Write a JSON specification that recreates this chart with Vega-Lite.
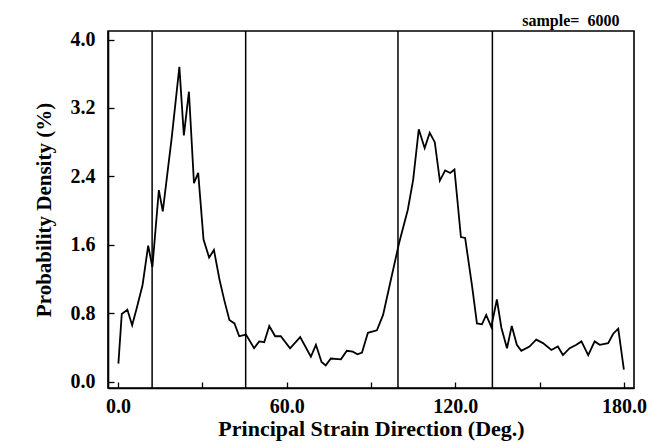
{
  "$schema": "https://vega.github.io/schema/vega-lite/v6.json",
  "width": 526,
  "height": 357,
  "autosize": {"type": "none"},
  "padding": {"left": 108, "top": 31, "right": 28, "bottom": 60},
  "background": "white",
  "config": {
    "view": {"stroke": "black", "strokeWidth": 1.6},
    "axis": {
      "grid": false,
      "domainColor": "black",
      "domainWidth": 1.6,
      "tickColor": "black",
      "tickWidth": 1.3,
      "labelFont": "Liberation Serif",
      "labelFontWeight": "bold",
      "labelFontSize": 20,
      "labelColor": "black",
      "titleFont": "Liberation Serif",
      "titleFontWeight": "bold",
      "titleColor": "black"
    }
  },
  "layer": [
    {
      "data": {"values": [
        {"angle": 0.1, "density": 0.21}, {"angle": 1.3, "density": 0.79}, {"angle": 3.3, "density": 0.84},
        {"angle": 5.0, "density": 0.66}, {"angle": 6.8, "density": 0.88}, {"angle": 8.7, "density": 1.13},
        {"angle": 10.7, "density": 1.59}, {"angle": 12.2, "density": 1.34}, {"angle": 14.5, "density": 2.24},
        {"angle": 15.9, "density": 1.99}, {"angle": 19.1, "density": 2.86}, {"angle": 21.8, "density": 3.68},
        {"angle": 23.4, "density": 2.88}, {"angle": 25.2, "density": 3.39}, {"angle": 27.0, "density": 2.32},
        {"angle": 28.5, "density": 2.44}, {"angle": 30.4, "density": 1.66}, {"angle": 32.4, "density": 1.45},
        {"angle": 34.1, "density": 1.54}, {"angle": 36.1, "density": 1.19}, {"angle": 37.8, "density": 0.95},
        {"angle": 39.6, "density": 0.72}, {"angle": 41.4, "density": 0.68}, {"angle": 43.1, "density": 0.53},
        {"angle": 45.5, "density": 0.55}, {"angle": 48.4, "density": 0.39}, {"angle": 50.2, "density": 0.47},
        {"angle": 52.0, "density": 0.46}, {"angle": 53.8, "density": 0.65}, {"angle": 55.9, "density": 0.53},
        {"angle": 57.9, "density": 0.53}, {"angle": 61.2, "density": 0.39}, {"angle": 64.8, "density": 0.52},
        {"angle": 68.6, "density": 0.29}, {"angle": 70.4, "density": 0.43}, {"angle": 72.4, "density": 0.23},
        {"angle": 73.9, "density": 0.19}, {"angle": 75.7, "density": 0.27}, {"angle": 79.3, "density": 0.26},
        {"angle": 81.4, "density": 0.36}, {"angle": 83.5, "density": 0.35}, {"angle": 85.2, "density": 0.32},
        {"angle": 86.8, "density": 0.34}, {"angle": 88.9, "density": 0.57}, {"angle": 92.1, "density": 0.6},
        {"angle": 94.3, "density": 0.78}, {"angle": 96.8, "density": 1.15}, {"angle": 100.0, "density": 1.62},
        {"angle": 103.1, "density": 2.01}, {"angle": 105.0, "density": 2.36}, {"angle": 107.0, "density": 2.95},
        {"angle": 109.1, "density": 2.73}, {"angle": 110.9, "density": 2.91}, {"angle": 112.7, "density": 2.8},
        {"angle": 114.5, "density": 2.35}, {"angle": 116.4, "density": 2.47}, {"angle": 118.2, "density": 2.44},
        {"angle": 119.7, "density": 2.48}, {"angle": 122.0, "density": 1.69}, {"angle": 123.5, "density": 1.68},
        {"angle": 126.0, "density": 1.11}, {"angle": 127.7, "density": 0.68}, {"angle": 129.5, "density": 0.67},
        {"angle": 131.0, "density": 0.78}, {"angle": 132.8, "density": 0.64}, {"angle": 134.8, "density": 0.96},
        {"angle": 136.4, "density": 0.63}, {"angle": 138.4, "density": 0.39}, {"angle": 140.1, "density": 0.65},
        {"angle": 141.9, "density": 0.43}, {"angle": 143.5, "density": 0.36}, {"angle": 146.4, "density": 0.41},
        {"angle": 148.8, "density": 0.49}, {"angle": 151.2, "density": 0.45}, {"angle": 154.2, "density": 0.37},
        {"angle": 156.5, "density": 0.41}, {"angle": 158.3, "density": 0.31}, {"angle": 160.7, "density": 0.39},
        {"angle": 163.1, "density": 0.43}, {"angle": 164.9, "density": 0.47}, {"angle": 167.3, "density": 0.31},
        {"angle": 169.6, "density": 0.47}, {"angle": 171.4, "density": 0.43}, {"angle": 174.4, "density": 0.45},
        {"angle": 176.2, "density": 0.56}, {"angle": 178.0, "density": 0.62}, {"angle": 180.0, "density": 0.14}
      ]},
      "mark": {"type": "line", "color": "black", "strokeWidth": 1.8, "clip": true},
      "encoding": {
        "x": {
          "field": "angle",
          "type": "quantitative",
          "scale": {"domain": [-3.6, 183.6], "nice": false, "zero": false},
          "axis": {
            "title": "Principal Strain Direction (Deg.)",
            "titleFontSize": 22,
            "values": [0, 30, 60, 90, 120, 150, 180],
            "labelExpr": "datum.value % 60 === 0 ? format(datum.value, '.1f') : ''",
            "tickSize": -6,
            "labelPadding": 14,
            "titlePadding": 2
          }
        },
        "y": {
          "field": "density",
          "type": "quantitative",
          "scale": {"domain": [-0.075, 4.1], "nice": false, "zero": false},
          "axis": {
            "title": "Probability Density (%)",
            "titleFontSize": 21,
            "values": [0, 0.8, 1.6, 2.4, 3.2, 4.0],
            "format": ".1f",
            "tickSize": -6,
            "labelPadding": 19,
            "titlePadding": 16
          }
        }
      }
    },
    {
      "data": {"values": [{"angle": 12.1}, {"angle": 45.4}, {"angle": 99.6}, {"angle": 133.2}]},
      "mark": {"type": "rule", "color": "black", "strokeWidth": 1.5},
      "encoding": {
        "x": {"field": "angle", "type": "quantitative"}
      }
    },
    {
      "data": {"values": [{"angle": 178.4, "density": 4.1, "label": "sample=\u00a0 6000"}]},
      "mark": {
        "type": "text",
        "align": "right",
        "baseline": "alphabetic",
        "dy": -5,
        "font": "Liberation Serif",
        "fontWeight": "bold",
        "fontSize": 16,
        "color": "black",
        "clip": false
      },
      "encoding": {
        "x": {"field": "angle", "type": "quantitative"},
        "y": {"field": "density", "type": "quantitative"},
        "text": {"field": "label"}
      }
    }
  ]
}
